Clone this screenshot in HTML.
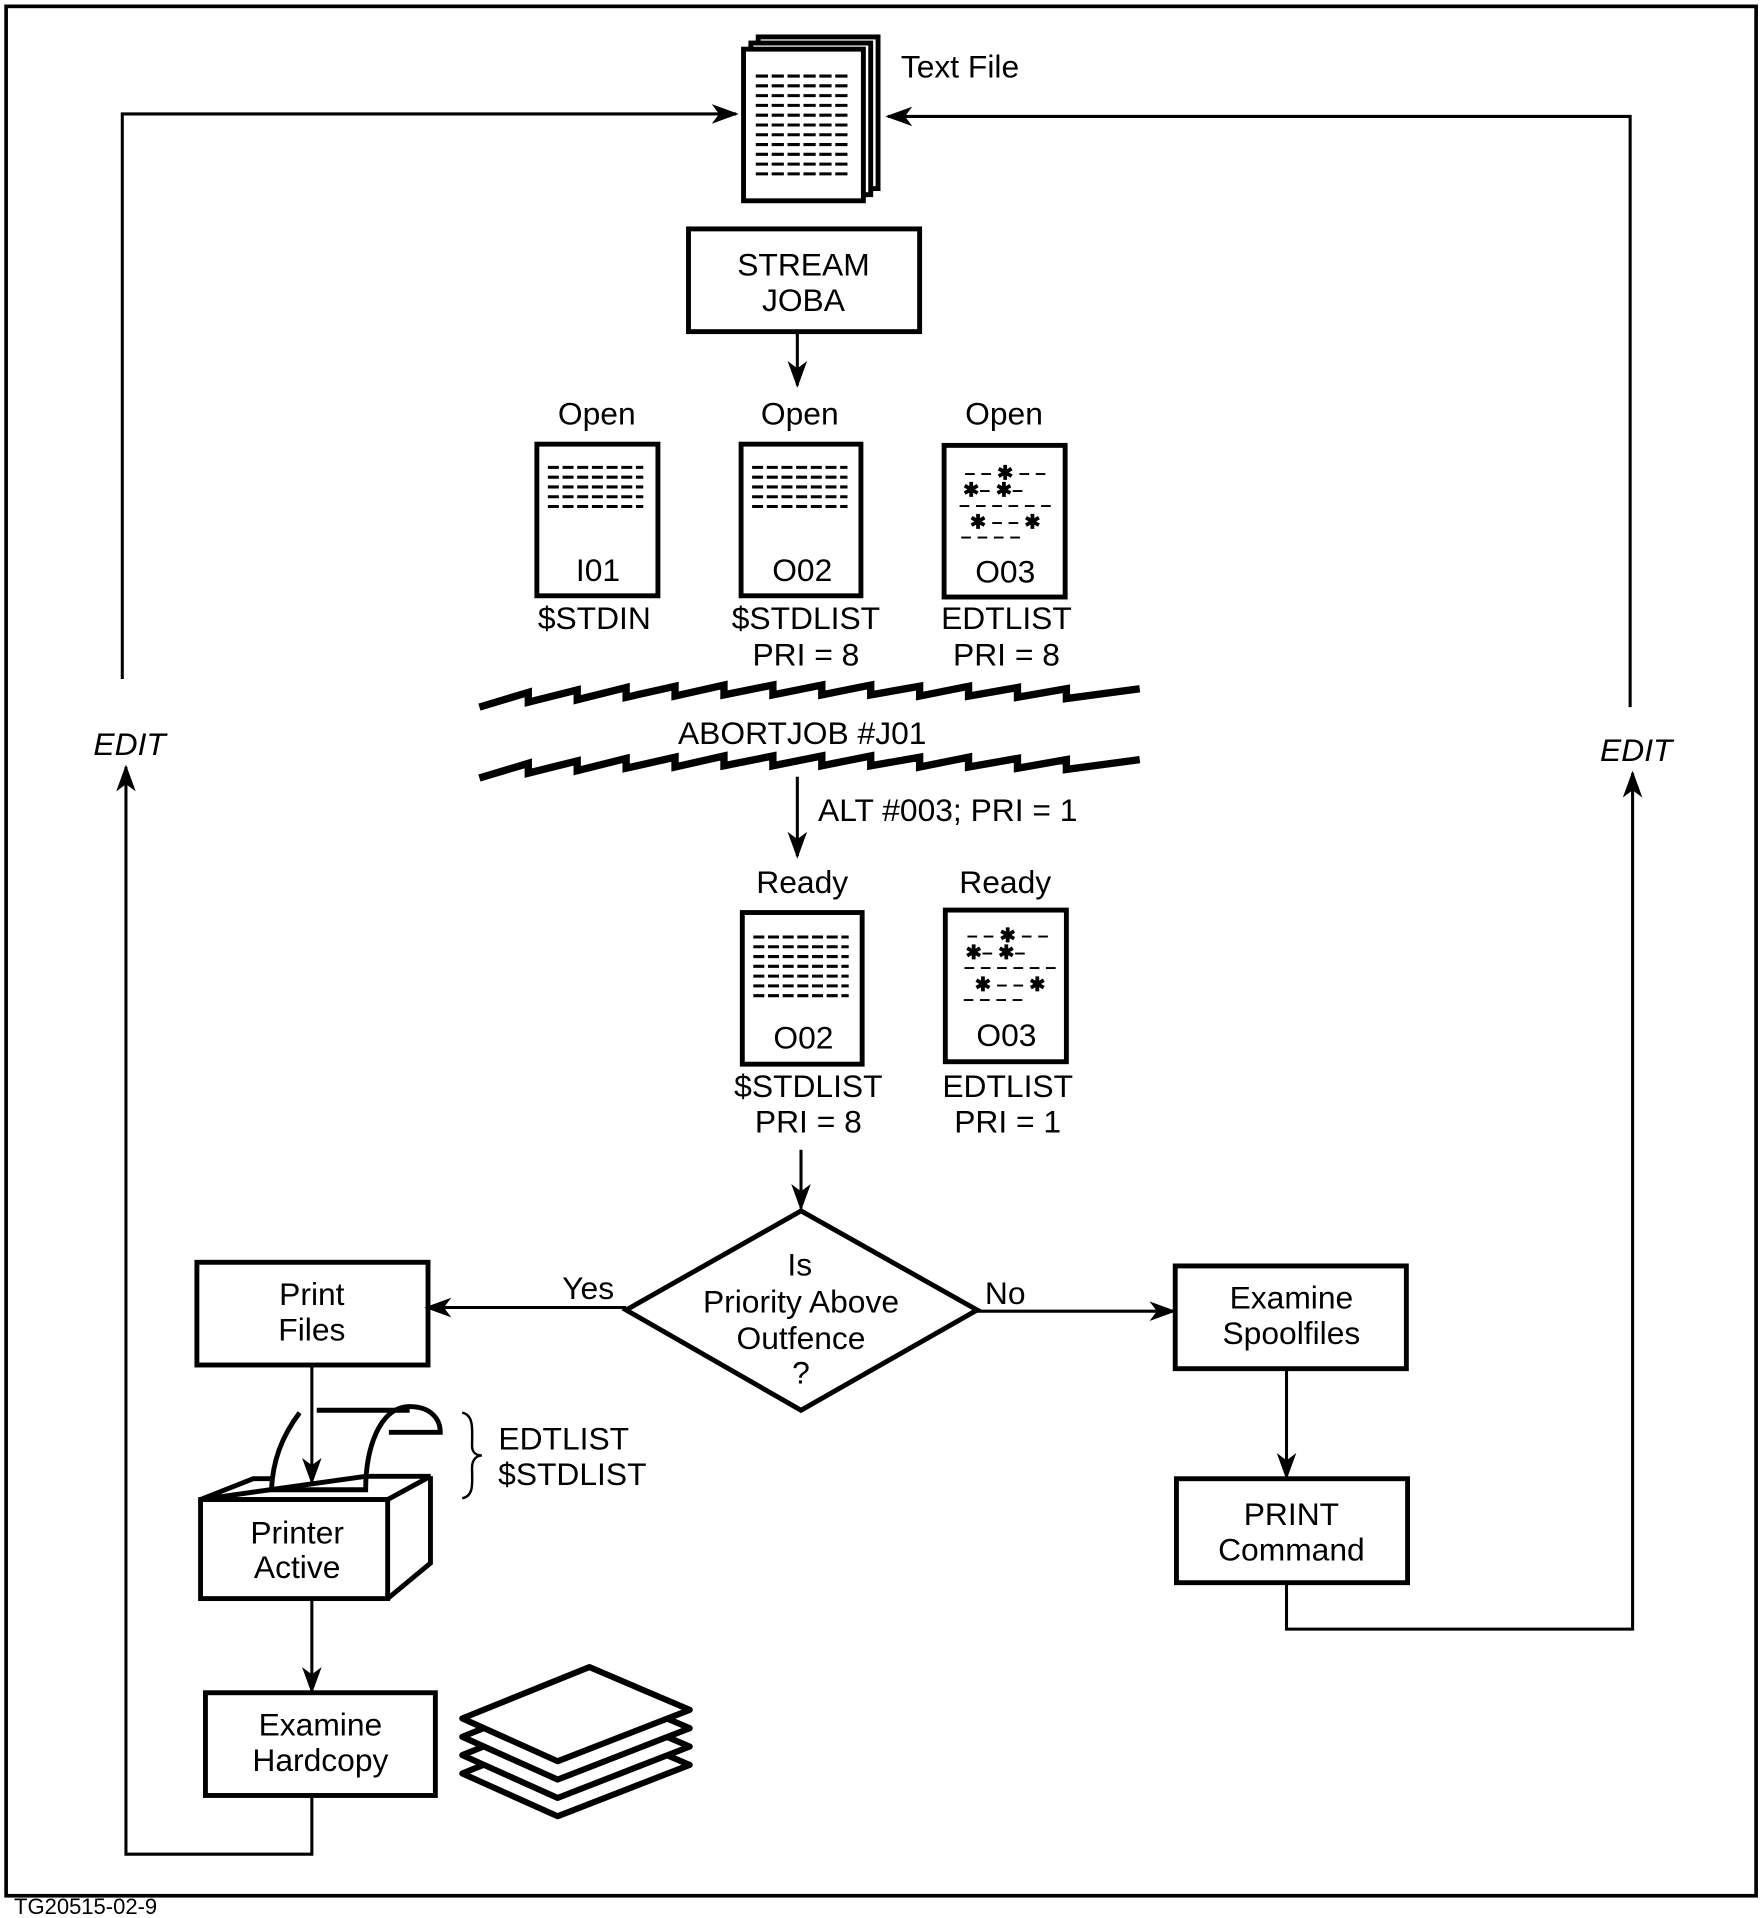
<!DOCTYPE html>
<html><head><style>html,body{margin:0;padding:0;background:#fff}svg{display:block}</style></head>
<body>
<svg width="1761" height="1918" viewBox="0 0 1440 1568" xmlns="http://www.w3.org/2000/svg" font-family="Liberation Sans, sans-serif" font-size="26" text-anchor="middle">
<defs>
<marker id="b" markerWidth="22" markerHeight="16" refX="20" refY="8" orient="auto" markerUnits="userSpaceOnUse"><path d="M0,0 L22,8 L0,16 L6,8z" fill="#000"/></marker>
</defs>
<rect x="5" y="5" width="1431" height="1545" fill="none" stroke="#000" stroke-width="3"/>
<text x="70" y="1565" font-size="18" text-anchor="middle">TG20515-02-9</text>
<g fill="none" stroke="#000" stroke-width="2.5">
<polyline points="100,555 100,93 602,93" marker-end="url(#b)"/>
<polyline points="1333,578 1333,95 726,95" marker-end="url(#b)"/>
<line x1="652" y1="271" x2="652" y2="315" marker-end="url(#b)"/>
<line x1="652" y1="635" x2="652" y2="700" marker-end="url(#b)"/>
<line x1="655" y1="940" x2="655" y2="988" marker-end="url(#b)"/>
<line x1="512" y1="1069" x2="349" y2="1069" marker-end="url(#b)"/>
<line x1="799" y1="1072" x2="960" y2="1072" marker-end="url(#b)"/>
<line x1="1052" y1="1119" x2="1052" y2="1208" marker-end="url(#b)"/>
<polyline points="1052,1294 1052,1332 1335,1332 1335,632" marker-end="url(#b)"/>
<line x1="255" y1="1308" x2="255" y2="1383" marker-end="url(#b)"/>
<polyline points="255,1468 255,1516 103,1516 103,627" marker-end="url(#b)"/>
</g>
<g fill="#fff" stroke="#000" stroke-width="4">
<rect x="620" y="30" width="98" height="124"/>
<rect x="614" y="35" width="98" height="124"/>
<rect x="608" y="40" width="98" height="124"/>
</g>
<g stroke="#000" stroke-width="2.5">
<path d="M618,62h78M618,70h78M618,78h78M618,86h78M618,94h78M618,102h78M618,110h78M618,118h78M618,126h78M618,134h78M618,142h78" stroke-dasharray="10,3"/>
</g>
<text x="785" y="63" text-anchor="middle">Text File</text>
<rect x="563" y="187" width="189" height="84" fill="none" stroke="#000" stroke-width="4"/>
<text x="657" y="225">STREAM</text><text x="657" y="254">JOBA</text>
<text x="488" y="347">Open</text><text x="654" y="347">Open</text><text x="821" y="347">Open</text>
<g fill="none" stroke="#000" stroke-width="4">
<rect x="439" y="363" width="99" height="124"/><rect x="606" y="363" width="98" height="124"/><rect x="772" y="364" width="99" height="124"/>
<rect x="607" y="746" width="98" height="124"/><rect x="773" y="744" width="99" height="124"/>
</g>
<g stroke="#000" stroke-width="2.5" stroke-dasharray="9,3">
<path d="M448,382h78M448,390h78M448,398h78M448,406h78M448,414h78"/>
<path d="M615,382h78M615,390h78M615,398h78M615,406h78M615,414h78"/>
<path d="M616,766h78M616,774h78M616,782h78M616,790h78M616,798h78M616,806h78M616,814h78"/>
</g>
<g font-size="16" font-weight="bold">
<text x="822" y="392">– – ✱ – –</text><text x="812" y="406">✱– ✱–</text><text x="822" y="418">– – – – – –</text><text x="822" y="432">✱ – – ✱</text><text x="810" y="444">– – – –</text>
<text x="824" y="770">– – ✱ – –</text><text x="814" y="784">✱– ✱–</text><text x="826" y="796">– – – – – –</text><text x="826" y="810">✱ – – ✱</text><text x="812" y="822">– – – –</text>
</g>
<text x="489" y="475">I01</text><text x="656" y="475">O02</text><text x="822" y="476">O03</text>
<text x="486" y="514">$STDIN</text><text x="659" y="514">$STDLIST</text><text x="659" y="544">PRI = 8</text>
<text x="823" y="514">EDTLIST</text><text x="823" y="544">PRI = 8</text>
<g fill="none" stroke="#000" stroke-width="6">
<path d="M392,578 L432,566 L432,574 L472,564 L472,572 L512,562 L512,570 L552,561 L552,569 L592,560 L592,568 L632,560 L632,568 L672,560 L672,568 L712,560 L712,568 L752,561 L752,569 L792,561 L792,569 L832,562 L832,570 L872,563 L872,571 L932,563"/>
<path d="M392,636 L432,624 L432,632 L472,622 L472,630 L512,620 L512,628 L552,619 L552,627 L592,618 L592,626 L632,618 L632,626 L672,618 L672,626 L712,618 L712,626 L752,619 L752,627 L792,619 L792,627 L832,620 L832,628 L872,621 L872,629 L932,621"/>
</g>
<text x="656" y="608">ABORTJOB #J01</text>
<text x="775" y="671">ALT #003; PRI = 1</text>
<text x="656" y="730">Ready</text><text x="822" y="730">Ready</text>
<text x="657" y="857">O02</text><text x="823" y="855">O03</text>
<text x="661" y="897">$STDLIST</text><text x="661" y="926">PRI = 8</text>
<text x="824" y="897">EDTLIST</text><text x="824" y="926">PRI = 1</text>
<polygon points="655,990 799,1071 655,1153 512,1071" fill="#fff" stroke="#000" stroke-width="4"/>
<text x="654" y="1043">Is</text><text x="655" y="1073">Priority  Above</text><text x="655" y="1103">Outfence</text><text x="655" y="1131">?</text>
<text x="481" y="1062">Yes</text><text x="822" y="1066">No</text>
<rect x="161" y="1032" width="189" height="84" fill="none" stroke="#000" stroke-width="4"/>
<text x="255" y="1067">Print</text><text x="255" y="1096">Files</text>
<rect x="961" y="1035" width="189" height="84" fill="none" stroke="#000" stroke-width="4"/>
<text x="1056" y="1070">Examine</text><text x="1056" y="1099">Spoolfiles</text>
<rect x="962" y="1209" width="189" height="85" fill="none" stroke="#000" stroke-width="4"/>
<text x="1056" y="1247">PRINT</text><text x="1056" y="1276">Command</text>
<text x="106" y="617" font-style="italic">EDIT</text><text x="1338" y="622" font-style="italic">EDIT</text>
<!-- printer -->
<g fill="none" stroke="#000" stroke-width="4" stroke-linejoin="miter">
<path d="M164,1226 L207,1209 L222,1209 M299,1207 L352,1207 L317,1226 L164,1226 Z"/>
<rect x="164" y="1226" width="153" height="81"/>
<path d="M317,1307 L352,1278 L352,1207"/>
<path d="M245,1155 C230,1175 223,1195 222,1218 L299,1218 C299,1185 310,1150 335,1150 C352,1150 360,1160 360,1171 L318,1171"/>
<path d="M259,1153 L335,1153"/>
</g>
<line x1="255" y1="1116" x2="255" y2="1212" stroke="#000" stroke-width="2.5" marker-end="url(#b)"/>
<text x="243" y="1262">Printer</text><text x="243" y="1290">Active</text>
<path d="M378,1155 C388,1157 386,1170 386,1182 C386,1188 390,1190 394,1190 C390,1190 386,1193 386,1200 C386,1212 388,1223 378,1225" fill="none" stroke="#000" stroke-width="2"/>
<text x="461" y="1185">EDTLIST</text><text x="468" y="1214">$STDLIST</text>
<rect x="168" y="1384" width="188" height="84" fill="none" stroke="#000" stroke-width="4"/>
<text x="262" y="1419">Examine</text><text x="262" y="1448">Hardcopy</text>
<g fill="#fff" stroke="#000" stroke-width="5" stroke-linejoin="round">
<polygon points="482,1408 564,1443 456,1485 378,1450"/>
<polygon points="482,1393 564,1428 456,1470 378,1435"/>
<polygon points="482,1378 564,1413 456,1455 378,1420"/>
<polygon points="482,1363 564,1398 456,1440 378,1405"/>
</g>
</svg>
</body></html>
